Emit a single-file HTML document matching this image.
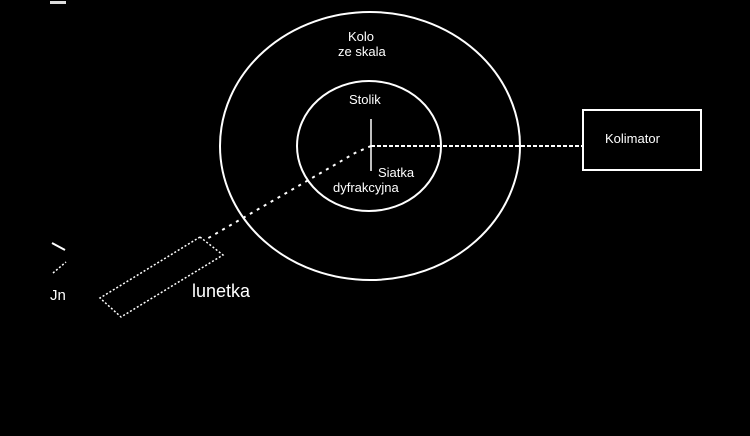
<!DOCTYPE html>
<html><head><style>
html,body{margin:0;padding:0;background:#000;width:750px;height:436px;overflow:hidden}
svg{display:block}
text{font-family:"Liberation Sans",sans-serif;fill:#fff;font-size:13px}
</style></head><body>
<svg width="750" height="436" viewBox="0 0 750 436">
<rect x="50" y="1" width="16" height="3" fill="#ddd"/>
<ellipse cx="370" cy="146" rx="150" ry="134" fill="none" stroke="#fff" stroke-width="2"/>
<ellipse cx="369" cy="146" rx="72" ry="65" fill="none" stroke="#fff" stroke-width="2"/>
<line x1="371" y1="119" x2="371" y2="171" stroke="#fff" stroke-width="1.5"/>
<line x1="371" y1="146" x2="583" y2="146" stroke="#fff" stroke-width="2" stroke-dasharray="4,2"/>
<rect x="583" y="110" width="118" height="60" fill="none" stroke="#fff" stroke-width="2"/>
<polyline points="371,146 355,153 300,185 205,240" fill="none" stroke="#fff" stroke-width="2" stroke-dasharray="3,5"/>
<polygon points="200,237 223,255 121,317 100,298" fill="none" stroke="#fff" stroke-width="1.5" stroke-dasharray="2,2"/>
<line x1="52" y1="243" x2="65" y2="250" stroke="#fff" stroke-width="2"/>
<line x1="53" y1="273" x2="66" y2="262" stroke="#fff" stroke-width="1.5" stroke-dasharray="2,2"/>
<text x="50" y="300" style="font-size:15px">Jn</text>
<text x="348" y="41">Kolo</text>
<text x="338" y="56">ze skala</text>
<text x="349" y="104">Stolik</text>
<text x="378" y="177">Siatka</text>
<text x="333" y="192">dyfrakcyjna</text>
<text x="605" y="143">Kolimator</text>
<text x="192" y="297" style="font-size:18px">lunetka</text>
</svg>
</body></html>
